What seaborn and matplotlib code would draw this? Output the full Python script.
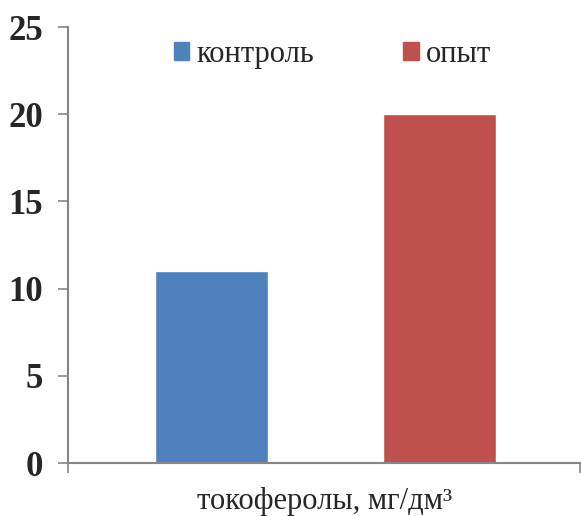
import pandas as pd
import matplotlib.pyplot as plt
import seaborn as sns

groups = ["контроль", "опыт"]
values = [11, 20]
colors = ["#4F81BD", "#C0504D"]
yticks = [0, 5, 10, 15, 20, 25]
xlabel = "токоферолы, мг/дм³"

df = pd.DataFrame({"group": groups, "value": values})

sns.set_style("white")
plt.rcParams["font.family"] = ["Liberation Serif", "DejaVu Serif"]

fig = plt.figure(figsize=(5.81, 5.16), dpi=100)
ax = fig.add_axes([68 / 581, 1 - 463 / 516, 512 / 581, 436 / 516])

sns.barplot(data=df, x="group", y="value", hue="group", palette=colors,
            width=0.495, dodge=False, legend=False, ax=ax, saturation=1)

ax.set_ylim(0, 25)
ax.set_xlim(-0.628, 1.613)
ax.set_yticks(yticks)
ax.set_yticklabels([str(t) for t in yticks], fontsize=25, fontweight="bold")
ax.set_xticks([-0.628, 1.613])
ax.set_xticklabels(["", ""])
ax.tick_params(axis="both", direction="out", length=7, width=1.2, color="#868686",
               left=True, bottom=True, pad=11)
ax.set_xlabel(xlabel, fontsize=22, va="baseline")
ax.xaxis.set_label_coords(0.501, -0.105)
ax.set_ylabel("")

for side in ["top", "right"]:
    ax.spines[side].set_visible(False)
for side in ["left", "bottom"]:
    ax.spines[side].set_color("#868686")
    ax.spines[side].set_linewidth(1.5)

handles = [plt.Rectangle((0, 0), 1, 1, color=c) for c in colors]
ax.legend(handles, groups, loc="upper center", bbox_to_anchor=(0.517, 1.034), ncol=2,
          frameon=False, fontsize=22, handlelength=0.5, handleheight=0.5,
          handletextpad=0.25, columnspacing=2.9)

fig.savefig("out.png", dpi=100)
